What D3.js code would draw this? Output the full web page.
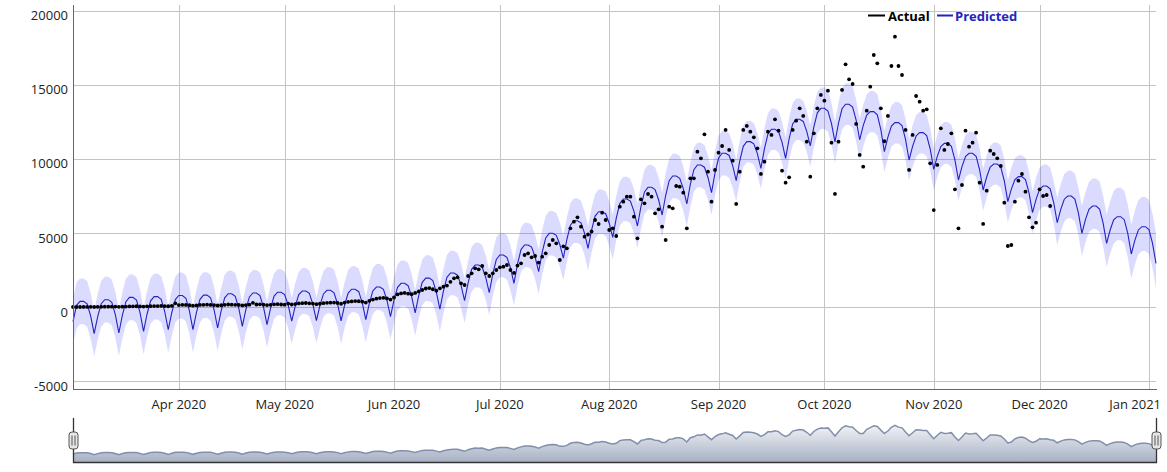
<!DOCTYPE html>
<html><head><meta charset="utf-8">
<script src="https://cdn.jsdelivr.net/npm/d3@7"></script>
<style>
body{margin:0;background:#fff;}
svg text{font-family:"Open Sans",sans-serif;}
</style></head><body>
<svg id="c" width="1167" height="472"></svg>
<script>
// ---------- data ----------
const startDate = "2020-03-02"; // first day of both series (daily)
const seriesNames = ["Actual", "Predicted"];
const predicted = [
-990,115,383,383,208,-600,
-1802,-654,219,495,495,315,-518,
-1757,-553,361,650,650,466,-382,
-1644,-472,419,700,700,521,-304,
-1532,-376,503,780,780,595,-260,
-1532,-366,520,800,800,622,-199,
-1419,-259,622,900,900,724,-93,
-1306,-178,679,950,950,778,-15,
-1194,-97,737,1000,1000,844,123,
-950,65,836,1080,1080,920,180,
-920,105,884,1130,1130,965,203,
-930,135,944,1200,1200,1036,275,
-856,247,1085,1350,1350,1190,450,
-650,475,1330,1600,1600,1440,700,
-400,775,1668,1950,1950,1782,1005,
-150,1075,2006,2300,2300,2150,1458,
428,1633,2549,2838,2838,2688,1997,
968,2241,3208,3514,3514,3361,2653,
1600,2895,3878,4189,4189,4045,3378,
2387,3684,4669,4980,4980,4846,4224,
3300,4566,5527,5831,5831,5682,4992,
3966,5203,6143,6440,6440,6302,5662,
4710,6005,6989,7300,7300,7154,6478,
5473,6781,7774,8088,8088,7938,7246,
6216,7534,8535,8851,8851,8700,8000,
6960,8278,9279,9595,9595,9445,8753,
7723,9055,10066,10386,10386,10238,9553,
8534,9853,10855,11171,11171,11027,10361,
9371,10689,11690,12006,12006,11849,11124,
10047,11365,12366,12682,12682,12538,11871,
10879,12152,13119,13425,13425,13243,12401,
11150,12425,13394,13700,13700,13508,12620,
11300,12250,12972,13200,13200,12984,11984,
10497,11476,12220,12455,12455,12253,11320,
9933,10856,11557,11779,11779,11581,10663,
9300,10179,10847,11058,11058,10860,9943,
8581,9484,10169,10386,10386,10188,9270,
7905,8784,9451,9662,9662,9458,8517,
7117,7962,8603,8806,8806,8611,7712,
6374,7275,7960,8176,8176,7978,7060,
5697,6599,7284,7500,7500,7298,6366,
4980,5903,6604,6825,6825,6623,5690,
4302,5202,5886,6102,6102,5900,4968,
3581,4504,5205,5426,5426,5228,4313,
2953];
const actual = [
0,0,0,5,5,10,0,10,15,20,20,25,30,10,20,30,40,45,50,40,30,45,55,60,65,70,60,50,80,
250,
130,150,140,120,90,110,140,150,160,140,130,100,120,150,170,160,150,140,110,130,160,
280,
170,180,160,130,150,180,190,170,160,
230,170,200,240,260,270,250,230,190,220,260,280,290,300,270,220,
300,350,380,400,390,360,300,
420,500,560,600,620,580,500,
650,850,920,950,900,870,
950,1050,1150,1250,1280,1200,1100,
1262,1375,1450,1700,1938,2005,1600,
1487,2096,2276,2613,2546,2771,2276,
2096,2276,2500,2681,2726,2838,2500,
2300,2800,2951,3514,3627,3357,3447,
3000,3400,3627,4190,4528,4300,3176,
4100,3965,5316,5766,6059,5428,4753,
4900,5100,5879,5609,6374,5879,5203,
5316,4798,6780,7117,7455,7455,6104,
4640,7275,7005,7635,7455,6329,6600,
5429,4528,6780,6667,8176,8131,7725,
5316,8694,8694,10495,10047,11669,9146,
7120,9259,10430,10880,11962,10610,9889,
6962,9146,11962,12232,11849,11466,10723,
8989,9822,11849,11624,12682,11916,9214,
8403,8764,11962,12592,13425,12907,11173,
8809,11736,13425,14326,13943,14619,11106,
7638,11173,14664,16398,15385,15069,12367,
10273,9484,13268,14889,17028,16465,13425,
11200,12907,16285,18264,16285,15677,11962,
9259,11624,14258,13876,13268,13358,9709,
6547,9597,12074,10610,11015,11735,7952,
5317,8244,11915,10834,11104,11780,8402,
5610,7862,10564,10339,10046,9528,7051,
4123,4191,7119,8537,8988,7794,6060,
5384,5699,7952,7501,7569,6826];
// weekly (Sun-Sat weeks starting 2020-03-01) interval offsets above / below the prediction
const bandUpperOffset = [1550,1550,1550,1550,1550,1550,1550,1550,1550,1550,1550,1550,1550,1550,1550,
 1500,1500,1500,1500,1500,1500,1500,1500,1500,1500,1500,1500,
 1400,1400,1400,1400,1400,1400,1400,1400,
 1450,1450,1450,1450,1450,
 1700,1850,1950,2000,2050];
const bandLowerOffset = [1550,1550,1550,1550,1550,1550,1550,1550,1550,1550,1550,1550,1550,1550,1550,
 1500,1500,1500,1500,1500,1500,1500,1500,1500,1500,1500,1500,
 1400,1400,1400,1400,1400,1400,1400,1400,
 1400,1400,1400,1400,1400,
 1500,1550,1600,1650,1700];
const yTickValues = [-5000, 0, 5000, 10000, 15000, 20000];
const xTickDates = ["2020-04-01","2020-05-01","2020-06-01","2020-07-01","2020-08-01","2020-09-01","2020-10-01","2020-11-01","2020-12-01","2021-01-01"];
const xTickLabels = ["Apr 2020","May 2020","Jun 2020","Jul 2020","Aug 2020","Sep 2020","Oct 2020","Nov 2020","Dec 2020","Jan 2021"];
const yDomain = [-5540, 20405];

// ---------- build ----------
const parse = d3.utcParse("%Y-%m-%d");
const t0 = parse(startDate);
const dayDate = i => d3.utcDay.offset(t0, i);
const predRows = predicted.map((v, i) => {
  const w = Math.floor((i + 1) / 7);
  return {date: dayDate(i), v, hi: v + bandUpperOffset[w], lo: v - bandLowerOffset[w]};
});
const actRows = actual.map((v, i) => ({date: dayDate(i), v}));

const L = 73, R = 1156, T = 5, B = 389;
const x = d3.scaleUtc().domain([dayDate(0), dayDate(predicted.length - 1)]).range([L, R]);
const y = d3.scaleLinear().domain(yDomain).range([B, T]);

const svg = d3.select("#c");
svg.append("rect").attr("width", 1167).attr("height", 472).attr("fill", "#fff");

// grid
const g = svg.append("g");
g.selectAll(".hg").data(yTickValues).join("line")
  .attr("x1", L).attr("x2", R)
  .attr("y1", d => Math.round(y(d)) + 0.5).attr("y2", d => Math.round(y(d)) + 0.5)
  .attr("stroke", "#c4c4c4").attr("stroke-width", 1);
g.selectAll(".vg").data(xTickDates).join("line")
  .attr("x1", d => Math.round(x(parse(d))) + 0.5).attr("x2", d => Math.round(x(parse(d))) + 0.5)
  .attr("y1", T).attr("y2", B)
  .attr("stroke", "#c4c4c4").attr("stroke-width", 1);

// band
svg.append("path").datum(predRows)
  .attr("d", d3.area().x(d => x(d.date)).y0(d => y(d.lo)).y1(d => y(d.hi)))
  .attr("fill", "rgba(40,40,255,0.17)");
// predicted line
svg.append("path").datum(predRows)
  .attr("d", d3.line().x(d => x(d.date)).y(d => y(d.v)))
  .attr("fill", "none").attr("stroke", "#2323c2").attr("stroke-width", 1.1);
// actual points
svg.append("g").selectAll("circle").data(actRows).join("circle")
  .attr("cx", d => x(d.date)).attr("cy", d => y(d.v)).attr("r", 1.9).attr("fill", "#000");

// axes lines
svg.append("line").attr("x1", L + 0.5).attr("x2", L + 0.5).attr("y1", T).attr("y2", B + 0.5)
  .attr("stroke", "#666").attr("stroke-width", 1);
svg.append("line").attr("x1", L).attr("x2", R + 1).attr("y1", B + 0.5).attr("y2", B + 0.5)
  .attr("stroke", "#666").attr("stroke-width", 1);

// y labels
svg.append("g").selectAll("text").data(yTickValues).join("text")
  .attr("x", 68).attr("y", d => y(d) + 9.5).attr("text-anchor", "end")
  .attr("font-size", 13).attr("fill", "#222").text(d => d);
// x labels
const xl = svg.append("g").selectAll("text").data(xTickDates).join("text")
  .attr("y", 409).attr("font-size", 13).attr("fill", "#222")
  .text((d, i) => xTickLabels[i]);
xl.each(function(d) {
  const w = this.getComputedTextLength();
  let left = x(parse(d)) - w / 2;
  if (left + w > 1161) left = 1161 - w;
  d3.select(this).attr("x", left);
});

// legend
const lg = svg.append("g");
lg.append("rect").attr("x", 868).attr("y", 14.5).attr("width", 17).attr("height", 2).attr("fill", "#000");
lg.append("text").attr("x", 888).attr("y", 21).attr("font-size", 13).attr("font-weight", "bold").attr("fill", "#000").text(seriesNames[0]);
lg.append("rect").attr("x", 937).attr("y", 14.5).attr("width", 16).attr("height", 2).attr("fill", "#2323c2");
lg.append("text").attr("x", 955).attr("y", 21).attr("font-size", 13).attr("font-weight", "bold").attr("fill", "#2323c2").text(seriesNames[1]);

// ---------- range selector ----------
const mT = 418, mB = 462;
const combined = predicted.map((v, i) => ({date: dayDate(i), v: i < actual.length ? (v + actual[i]) / 2 : v}));
const cmin = d3.min(combined, d => d.v), cmax = d3.max(combined, d => d.v);
const extra = (cmax - cmin) * 0.25;
const ym = d3.scaleLinear().domain([cmin - extra, cmax + extra]).range([mB, mT]);
const defs = svg.append("defs");
const grad = defs.append("linearGradient").attr("id", "mg").attr("x1", 0).attr("x2", 0).attr("y1", 0).attr("y2", 1)
  .attr("gradientUnits", "userSpaceOnUse").attr("y1", mT).attr("y2", mB);
grad.append("stop").attr("offset", 0).attr("stop-color", "#ffffff");
grad.append("stop").attr("offset", 1).attr("stop-color", "#a7b1c4");
svg.append("path").datum(combined)
  .attr("d", d3.area().x(d => x(d.date)).y0(mB).y1(d => ym(d.v)))
  .attr("fill", "url(#mg)");
svg.append("path").datum(combined)
  .attr("d", d3.line().x(d => x(d.date)).y(d => ym(d.v)))
  .attr("fill", "none").attr("stroke", "#808fab").attr("stroke-width", 1.5);
// outline of the selected window
svg.append("path")
  .attr("d", `M${L + 0.5},${mT}V${mB + 0.5}H${R + 0.5}V${mT}`)
  .attr("fill", "none").attr("stroke", "#333").attr("stroke-width", 1.3);
// handles
[L + 0.5, R + 0.5].forEach(cx => {
  const h = svg.append("g");
  h.append("rect").attr("x", cx - 4.5).attr("y", 432).attr("width", 9).attr("height", 17).attr("rx", 3)
    .attr("fill", "#e6e6e6").attr("stroke", "#555").attr("stroke-width", 1);
  h.append("line").attr("x1", cx - 1.5).attr("x2", cx - 1.5).attr("y1", 435.5).attr("y2", 445.5).attr("stroke", "#555");
  h.append("line").attr("x1", cx + 1.5).attr("x2", cx + 1.5).attr("y1", 435.5).attr("y2", 445.5).attr("stroke", "#555");
});
</script>
</body></html>
